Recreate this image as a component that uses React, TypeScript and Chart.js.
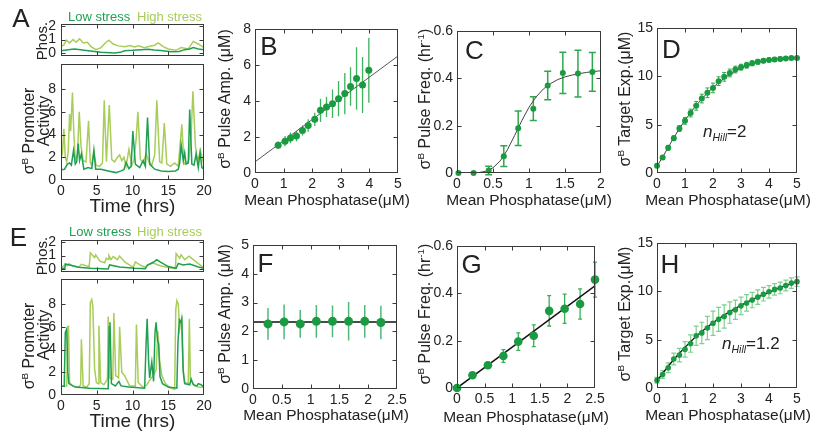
import React, { useEffect, useRef } from "react";
import { Chart, registerables } from "chart.js";
Chart.register(...registerables);

const W = 815;
const H = 432;
const FONT = "'Liberation Sans', Arial, Helvetica, sans-serif";
const INK = "#222222";
const FRAME = "#3a3a3a";
const LOW = "#1f9f52";
const HIGH = "#a8cd5a";
const DOT = "#1a9a41";

type Pair = [number, number];

// ---------- Panel A (time traces) ----------
const phosHighA: Pair[] = [[0,0.47],[0.4,0.6],[0.75,0.95],[1.2,0.75],[1.7,1.0],[2.1,0.8],[2.6,1.05],[3.1,0.75],[3.7,0.8],[4.2,0.47],[4.9,0.25],[5.6,0.4],[6.3,0.8],[6.7,0.95],[7.3,0.67],[8.0,0.53],[8.9,0.47],[9.6,0.55],[10.3,0.45],[10.8,0.53],[11.7,0.4],[12.4,0.5],[13.1,0.58],[13.6,0.75],[14.3,0.47],[15.0,0.3],[16.1,0.2],[16.8,0.4],[17.8,0.3],[18.5,0.86],[19.2,0.67],[20,0.4]];
const phosLowA: Pair[] = [[0,0.17],[1.0,0.25],[1.9,0.3],[3.0,0.22],[3.8,0.17],[5.0,0.1],[5.6,0.05],[7.5,0.0],[8.3,0.05],[8.9,0.17],[10.0,0.2],[11.2,0.25],[12.2,0.28],[13.0,0.22],[13.6,0.2],[15.4,0.1],[16.5,0.12],[17.3,0.25],[18.0,0.3],[18.5,0.4],[19.2,0.3],[20,0.25]];
const actHighA: Pair[] = [[0,2.0],[0.2,2.3],[0.4,4.5],[0.6,2.0],[0.8,1.6],[1.0,2.4],[1.2,5.8],[1.35,4.3],[1.6,7.7],[1.8,4.0],[2.0,1.8],[2.3,2.2],[2.55,6.0],[2.8,3.0],[3.1,1.7],[3.5,1.6],[3.85,5.2],[4.1,1.5],[4.3,1.3],[4.6,2.5],[4.9,1.3],[5.4,1.2],[5.8,1.5],[6.05,7.0],[6.35,1.6],[6.75,6.6],[7.1,1.8],[7.5,1.6],[7.9,2.0],[8.2,2.2],[8.5,1.7],[8.8,2.0],[9.1,1.2],[9.5,2.7],[9.9,1.3],[10.2,1.8],[10.5,3.5],[10.75,6.0],[11.1,1.8],[11.5,1.5],[11.9,2.3],[12.3,1.6],[12.7,1.3],[13.1,2.2],[13.4,7.0],[13.8,1.6],[14.1,1.5],[14.45,5.0],[14.8,1.4],[15.3,1.2],[15.9,1.5],[16.4,1.2],[16.9,4.9],[17.2,1.4],[17.6,1.5],[17.9,1.8],[18.2,4.0],[18.45,7.8],[18.8,3.0],[19.1,1.6],[19.5,2.6],[20,1.3]];
const actLowA: Pair[] = [[0,0.9],[0.5,0.95],[0.9,1.4],[1.2,1.5],[1.45,1.3],[1.75,2.6],[2.0,1.4],[2.2,1.6],[2.4,3.2],[2.6,1.7],[2.85,2.3],[3.2,0.95],[3.8,1.1],[4.3,1.0],[4.6,2.6],[4.85,0.95],[5.6,0.95],[6.6,0.8],[7.7,0.65],[8.4,0.8],[8.8,0.9],[9.1,1.55],[9.5,1.0],[9.8,1.2],[10.05,4.3],[10.4,1.4],[11.0,1.1],[11.5,1.7],[11.8,1.2],[12.1,5.5],[12.4,1.4],[13.1,0.95],[14.0,0.8],[15.0,0.75],[16.0,0.8],[16.4,0.95],[16.6,1.5],[16.8,3.1],[17.1,1.7],[17.3,2.4],[17.5,1.4],[17.8,1.5],[18.0,6.2],[18.3,1.4],[18.6,1.3],[18.9,2.3],[19.2,1.1],[19.45,2.4],[19.7,1.1],[20,0.95]];

// ---------- Panel E (time traces) ----------
const phosHighE: Pair[] = [[0,0.1],[0.5,0.3],[0.9,0.25],[1.1,0.4],[1.6,0.25],[2.5,0.15],[2.85,0.35],[3.5,0.25],[3.95,0.2],[4.1,1.2],[4.7,0.85],[4.85,1.05],[5.4,0.6],[6.1,0.47],[6.35,0.8],[6.6,0.7],[6.7,1.0],[7.0,0.7],[7.3,0.92],[7.9,0.7],[8.2,0.97],[8.9,0.53],[10.1,0.13],[10.4,0.53],[11.2,0.26],[11.8,0.15],[12.1,0.3],[12.9,0.45],[13.6,0.3],[14.0,0.22],[15.4,0.08],[16.0,0.05],[16.1,1.15],[16.6,0.8],[16.8,1.05],[17.3,0.7],[17.9,0.95],[19.2,0.4],[20,0.08]];
const phosLowE: Pair[] = [[0,0.05],[0.55,0.05],[0.6,0.37],[1.2,0.3],[2.4,0.13],[4.2,0.05],[6.6,0.0],[6.8,0.3],[8.2,0.15],[10.3,0.05],[11.8,0.03],[12.1,0.3],[12.9,0.5],[13.4,0.7],[13.8,0.55],[15.0,0.18],[16.1,0.05],[16.4,0.42],[17.05,0.3],[18.0,0.37],[19.2,0.15],[20,0.05]];
const actHighE: Pair[] = [[0,0.8],[0.8,0.8],[0.95,5.0],[1.05,6.1],[1.2,1.1],[1.6,0.8],[2.4,0.65],[2.75,0.9],[2.85,4.9],[3.1,0.8],[3.6,0.7],[3.95,1.0],[4.1,8.1],[4.3,8.4],[4.45,7.8],[4.7,2.3],[4.95,1.1],[5.2,1.0],[5.3,6.1],[5.55,1.1],[6.0,0.9],[6.5,1.4],[6.6,6.9],[6.8,1.5],[7.25,1.4],[7.4,7.2],[7.65,1.7],[8.05,1.5],[8.2,6.0],[8.5,2.0],[8.9,1.7],[9.6,0.8],[10.4,0.8],[10.55,6.2],[10.8,1.1],[11.5,0.65],[12.0,0.9],[12.4,1.3],[12.9,1.7],[13.3,2.2],[13.55,5.6],[13.8,3.0],[14.1,1.7],[14.6,1.0],[15.3,0.6],[15.9,0.5],[16.05,7.5],[16.2,8.3],[16.4,8.0],[16.6,5.8],[16.85,6.7],[17.05,2.5],[17.3,1.1],[17.8,1.0],[17.95,6.7],[18.1,1.4],[18.7,0.8],[19.3,0.7],[20,0.65]];
const actLowE: Pair[] = [[0,0.8],[0.45,0.75],[0.6,5.5],[0.8,5.8],[0.95,2.0],[1.1,1.0],[2.0,0.7],[4,0.6],[6.6,0.55],[6.75,6.0],[6.85,6.4],[7.05,1.0],[7.6,0.8],[8.1,1.2],[8.4,0.8],[9.5,0.7],[11.7,0.6],[11.9,4.5],[12.05,6.7],[12.25,3.0],[12.4,1.5],[12.7,2.9],[12.95,1.2],[13.15,5.5],[13.3,6.4],[13.5,4.8],[13.65,4.5],[13.85,1.6],[14.2,1.0],[15.0,0.7],[16.2,0.6],[16.35,4.5],[16.55,6.6],[16.75,6.4],[16.9,6.7],[17.1,2.0],[17.3,1.0],[18.0,0.9],[18.2,1.4],[18.5,0.9],[19.0,0.8],[19.2,1.0],[19.6,0.9],[20,0.7]];

const timeTicks = [0, 5, 10, 15, 20];
const phosTicks = [0, 1, 2];
const actTicks = [0, 2, 4, 6, 8];

// ---------- Panel B ----------
const phosB = [0.81,1.05,1.24,1.45,1.66,1.86,2.09,2.29,2.5,2.71,2.92,3.14,3.34,3.55,3.76,3.98];
const ampB = [1.54,1.77,1.95,2.05,2.36,2.64,2.98,3.48,3.67,3.85,4.13,4.41,4.8,5.25,4.89,5.71];
const ampErrB = [0.21,0.28,0.3,0.28,0.28,0.35,0.37,0.65,0.56,0.79,0.98,1.14,1.07,1.74,1.56,1.81];
const fitB: Pair[] = [[0,0.62],[5,6.5]];
const xTicksB = [0,1,2,3,4,5];
const yTicksB = [0,2,4,6,8];

// ---------- Panel C ----------
const phosC = [0.02,0.23,0.44,0.65,0.85,1.06,1.26,1.47,1.68,1.88];
const freqC = [0,0,0.011,0.071,0.189,0.272,0.37,0.423,0.42,0.427];
const freqErrC = [0,0,0.018,0.044,0.073,0.05,0.06,0.087,0.099,0.082];
const fitXC = [0,0.2,0.3,0.4,0.5,0.6,0.7,0.8,0.9,1.0,1.1,1.2,1.3,1.4,1.5,1.6,1.7,1.8,1.9,2.0];
const fitYC = [0,0.0003,0.0017,0.0072,0.022,0.051,0.098,0.158,0.221,0.278,0.322,0.355,0.378,0.395,0.406,0.414,0.42,0.425,0.429,0.432];
const xTicksC = [0,0.5,1,1.5,2];
const yTicksC = [0,0.2,0.4,0.6];

// ---------- Panel D ----------
const phosD = [0,0.2,0.4,0.6,0.8,1,1.2,1.4,1.6,1.8,2,2.2,2.4,2.6,2.8,3,3.2,3.4,3.6,3.8,4,4.2,4.4,4.6,4.8,5];
const targD = [0.75,1.6,2.6,3.6,4.6,5.4,6.2,6.95,7.7,8.3,8.8,9.5,9.95,10.35,10.7,10.95,11.15,11.35,11.5,11.6,11.7,11.75,11.8,11.85,11.9,11.9];
const targErrD = [0.2,0.2,0.25,0.25,0.3,0.35,0.4,0.45,0.45,0.5,0.5,0.45,0.45,0.4,0.35,0.3,0.3,0.25,0.25,0.2,0.2,0.2,0.2,0.15,0.15,0.15];
const fitD = [0.7,1.65,2.65,3.65,4.6,5.45,6.25,7.0,7.65,8.3,8.85,9.35,9.8,10.2,10.55,10.85,11.1,11.3,11.45,11.58,11.68,11.76,11.82,11.87,11.9,11.92];
const xTicks05 = [0,1,2,3,4,5];
const yTicks015 = [0,5,10,15];

// ---------- Panel F ----------
const phosF = [0.26,0.54,0.82,1.1,1.38,1.66,1.94,2.22];
const ampF = [2.26,2.33,2.26,2.35,2.35,2.35,2.35,2.31];
const ampErrF = [0.55,0.6,0.48,0.57,0.55,0.67,0.57,0.58];
const fitF: Pair[] = [[0,2.33],[2.5,2.33]];
const xTicks025 = [0,0.5,1,1.5,2,2.5];
const yTicksF = [0,1,2,3,4,5];

// ---------- Panel G ----------
const phosG = [0,0.28,0.56,0.84,1.11,1.39,1.67,1.95,2.23,2.5];
const freqG = [0,0.054,0.096,0.135,0.196,0.221,0.326,0.335,0.355,0.458];
const freqErrG = [0,0.008,0.012,0.027,0.037,0.046,0.064,0.062,0.064,0.074];
const fitG: Pair[] = [[0,0],[2.5,0.432]];

// ---------- Panel H ----------
const phosH = [0,0.2,0.4,0.6,0.8,1,1.2,1.4,1.6,1.8,2,2.2,2.4,2.6,2.8,3,3.2,3.4,3.6,3.8,4,4.2,4.4,4.6,4.8,5];
const targH = [0.8,1.4,2.1,3.0,3.4,4.0,4.6,5.4,5.7,6.2,6.7,7.1,7.4,7.8,8.1,8.5,8.8,9.1,9.4,9.7,9.95,10.2,10.35,10.6,10.85,11.0];
const targErrH = [0.3,0.4,0.5,0.6,0.7,0.8,0.9,1.0,1.1,1.2,1.25,1.25,1.2,1.1,1.0,0.9,0.85,0.8,0.75,0.7,0.65,0.6,0.6,0.55,0.55,0.5];
const fitH = [0.75,1.5,2.25,2.95,3.6,4.2,4.8,5.35,5.85,6.3,6.75,7.15,7.55,7.9,8.25,8.55,8.85,9.15,9.4,9.65,9.9,10.15,10.4,10.6,10.8,11.0];

// ---------- helpers ----------
const pairsXY = (p: Pair[]) => p.map(([x, y]) => ({ x, y }));
const zipXY = (xs: number[], ys: number[]) => xs.map((x, i) => ({ x, y: ys[i] }));

type Box = { l: number; t: number; r: number; b: number };

const framePlugin = {
  id: "frame",
  afterDraw(chart: any) {
    const { ctx, chartArea: a, scales } = chart;
    const xs = scales.x;
    const ys = scales.y;
    ctx.save();
    ctx.strokeStyle = FRAME;
    ctx.lineWidth = 1;
    const L = Math.round(a.left) + 0.5;
    const R = Math.round(a.right) - 0.5;
    const T = Math.round(a.top) + 0.5;
    const B = Math.round(a.bottom) - 0.5;
    ctx.strokeRect(L, T, R - L, B - T);
    const tl = 4;
    ctx.beginPath();
    xs.ticks.forEach((t: any) => {
      const px = Math.round(xs.getPixelForValue(t.value)) + 0.5;
      if (px <= L + 1 || px >= R - 1) return;
      ctx.moveTo(px, B); ctx.lineTo(px, B - tl);
      ctx.moveTo(px, T); ctx.lineTo(px, T + tl);
    });
    ys.ticks.forEach((t: any) => {
      const py = Math.round(ys.getPixelForValue(t.value)) + 0.5;
      if (py <= T + 1 || py >= B - 1) return;
      ctx.moveTo(L, py); ctx.lineTo(L + tl, py);
      ctx.moveTo(R, py); ctx.lineTo(R - tl, py);
    });
    ctx.stroke();
    ctx.restore();
  },
};

function errPlugin(xs: number[], ys: number[], es: number[], color: string, cap: number, width: number) {
  return {
    id: "errbars",
    beforeDatasetsDraw(chart: any) {
      const { ctx, scales } = chart;
      ctx.save();
      ctx.strokeStyle = color;
      ctx.lineWidth = width;
      ctx.beginPath();
      xs.forEach((x, i) => {
        if (!es[i]) return;
        const px = scales.x.getPixelForValue(x);
        const p1 = scales.y.getPixelForValue(ys[i] - es[i]);
        const p2 = scales.y.getPixelForValue(ys[i] + es[i]);
        ctx.moveTo(px, p1); ctx.lineTo(px, p2);
        if (cap > 0) {
          ctx.moveTo(px - cap, p1); ctx.lineTo(px + cap, p1);
          ctx.moveTo(px - cap, p2); ctx.lineTo(px + cap, p2);
        }
      });
      ctx.stroke();
      ctx.restore();
    },
  };
}

function axis(min: number, max: number, ticks: number[], horizontal: boolean, size: number, labels: boolean, pad: number) {
  return {
    type: "linear",
    min,
    max,
    afterBuildTicks: (s: any) => { s.ticks = ticks.map((v) => ({ value: v })); },
    afterFit: (s: any) => {
      if (horizontal) s.height = size; else s.width = size;
      s.paddingLeft = 0; s.paddingRight = 0; s.paddingTop = 0; s.paddingBottom = 0;
    },
    grid: { display: false, drawTicks: false },
    border: { display: false },
    ticks: {
      display: labels,
      padding: pad,
      color: INK,
      font: { family: FONT, size: 14 },
      autoSkip: false,
      maxRotation: 0,
      minRotation: 0,
      callback: (v: number) => String(v),
    },
    title: { display: false },
  };
}

interface Spec {
  box: Box;
  x: [number, number, number[]];
  y: [number, number, number[]];
  xLabels: boolean;
  yPad?: number;
  datasets: any[];
  plugins?: any[];
}

function makeConfig(s: Spec): any {
  const yW = 40;
  const xH = 20;
  return {
    type: "scatter",
    data: { datasets: s.datasets },
    options: {
      responsive: false,
      animation: false,
      events: [],
      layout: { padding: { left: s.box.l - yW, top: s.box.t, right: W - s.box.r, bottom: H - s.box.b - xH } },
      plugins: { legend: { display: false }, tooltip: { enabled: false }, title: { display: false } },
      scales: {
        x: axis(s.x[0], s.x[1], s.x[2], true, xH, s.xLabels, 3),
        y: axis(s.y[0], s.y[1], s.y[2], false, yW, true, s.yPad ?? 4),
      },
    },
    plugins: [framePlugin, ...(s.plugins || [])],
  };
}

const trace = (p: Pair[], color: string) => ({
  data: pairsXY(p), showLine: true, borderColor: color, backgroundColor: color, borderWidth: 1.5, pointRadius: 0, tension: 0,
});
const dots = (xs: number[], ys: number[], r: number) => ({
  data: zipXY(xs, ys), pointRadius: r, pointBorderWidth: 0, pointBackgroundColor: DOT, backgroundColor: DOT, borderColor: DOT, clip: false,
});
const fitLine = (d: { x: number; y: number }[], color: string, w: number) => ({
  data: d, showLine: true, borderColor: color, borderWidth: w, pointRadius: 0, tension: 0,
});

const specs: Spec[] = [
  { box: { l: 61, t: 24, r: 204, b: 56 }, x: [0, 20, timeTicks], y: [-0.22, 2.15, phosTicks], xLabels: false, yPad: 5,
    datasets: [trace(phosLowA, LOW), trace(phosHighA, HIGH)] },
  { box: { l: 61, t: 64, r: 204, b: 180 }, x: [0, 20, timeTicks], y: [0, 10.2, actTicks], xLabels: true, yPad: 5,
    datasets: [trace(actLowA, LOW), trace(actHighA, HIGH)] },
  { box: { l: 255, t: 29, r: 398, b: 173 }, x: [0, 5, xTicksB], y: [0, 8, yTicksB], xLabels: true,
    datasets: [dots(phosB, ampB, 3.5), fitLine(pairsXY(fitB), "#555", 1)],
    plugins: [errPlugin(phosB, ampB, ampErrB, "#3db35c", 0, 1.3)] },
  { box: { l: 457, t: 31, r: 601, b: 173 }, x: [0, 2, xTicksC], y: [0, 0.6, yTicksC], xLabels: true,
    datasets: [dots(phosC, freqC, 3), fitLine(zipXY(fitXC, fitYC), "#444", 1)],
    plugins: [errPlugin(phosC, freqC, freqErrC, "#2fa84c", 3.5, 1.5)] },
  { box: { l: 657, t: 28, r: 797, b: 173 }, x: [0, 5, xTicks05], y: [0, 15, yTicks015], xLabels: true,
    datasets: [dots(phosD, targD, 3), fitLine(zipXY(phosD, fitD), "#444", 1)],
    plugins: [errPlugin(phosD, targD, targErrD, "#2fa84c", 2, 1)] },
  { box: { l: 61, t: 240, r: 204, b: 272 }, x: [0, 20, timeTicks], y: [-0.22, 2.15, phosTicks], xLabels: false, yPad: 5,
    datasets: [trace(phosLowE, LOW), trace(phosHighE, HIGH)] },
  { box: { l: 61, t: 279, r: 204, b: 395 }, x: [0, 20, timeTicks], y: [0, 10.2, actTicks], xLabels: true, yPad: 5,
    datasets: [trace(actLowE, LOW), trace(actHighE, HIGH)] },
  { box: { l: 253, t: 245, r: 397, b: 389 }, x: [0, 2.5, xTicks025], y: [0, 5, yTicksF], xLabels: true,
    datasets: [dots(phosF, ampF, 4.5), fitLine(pairsXY(fitF), "#111", 1.5)],
    plugins: [errPlugin(phosF, ampF, ampErrF, "#52b87a", 0, 1.5)] },
  { box: { l: 457, t: 246, r: 595, b: 388 }, x: [0, 2.5, xTicks025], y: [0, 0.6, yTicksC], xLabels: true,
    datasets: [dots(phosG, freqG, 4.3), fitLine(pairsXY(fitG), "#111", 1.5)],
    plugins: [errPlugin(phosG, freqG, freqErrG, "#3aaf55", 2, 1.3)] },
  { box: { l: 657, t: 243, r: 797, b: 388 }, x: [0, 5, xTicks05], y: [0, 15, yTicks015], xLabels: true,
    datasets: [dots(phosH, targH, 2.8), fitLine(zipXY(phosH, fitH), "#111", 1.3)],
    plugins: [errPlugin(phosH, targH, targErrH, "#7fcf8f", 2.5, 1.2)] },
];

function Layer({ spec }: { spec: Spec }) {
  const ref = useRef<HTMLCanvasElement>(null);
  useEffect(() => {
    const c = new Chart(ref.current as HTMLCanvasElement, makeConfig(spec));
    return () => c.destroy();
  }, [spec]);
  return <canvas ref={ref} width={W} height={H} style={{ position: "absolute", left: 0, top: 0, width: W, height: H }} />;
}

function Txt(props: { x: number; y: number; size: number; color?: string; rot?: boolean; left?: boolean; children: any }) {
  const { x, y, size, color = INK, rot = false, left = false, children } = props;
  return (
    <div
      style={{
        position: "absolute", left: x, top: y, fontFamily: FONT, fontSize: size, color, lineHeight: 1,
        whiteSpace: "nowrap", transform: `translate(${left ? "0" : "-50%"}, -50%)` + (rot ? " rotate(-90deg)" : ""),
      }}
    >
      {children}
    </div>
  );
}

const Sup = ({ c }: { c: string }) => (
  <span style={{ fontSize: "0.62em", position: "relative", top: "-0.6em" }}>{c}</span>
);
const Sub = ({ c }: { c: string }) => (
  <span style={{ fontSize: "0.62em", position: "relative", top: "0.35em" }}>{c}</span>
);

const MP = "Mean Phosphatase(\u03bcM)";

export default function App() {
  return (
    <div style={{ position: "absolute", left: 0, top: 0, width: W, height: H, background: "#fff", overflow: "hidden" }}>
      {specs.map((s, i) => <Layer key={i} spec={s} />)}

      {/* panel letters */}
      <Txt x={21} y={18} size={26}>A</Txt>
      <Txt x={269} y={46} size={26}>B</Txt>
      <Txt x={474.5} y={50} size={26}>C</Txt>
      <Txt x={671.5} y={49} size={26}>D</Txt>
      <Txt x={18.5} y={236.5} size={26}>E</Txt>
      <Txt x={265.5} y={263} size={26}>F</Txt>
      <Txt x={471.5} y={263.5} size={26}>G</Txt>
      <Txt x={670} y={263.5} size={26}>H</Txt>

      {/* legends */}
      <Txt x={68} y={16} size={13} color={LOW} left>Low stress</Txt>
      <Txt x={137} y={16} size={13} color={HIGH} left>High stress</Txt>
      <Txt x={69} y={231} size={13} color={LOW} left>Low stress</Txt>
      <Txt x={137} y={231} size={13} color={HIGH} left>High stress</Txt>

      {/* x titles */}
      <Txt x={132.5} y={205} size={19}>Time (hrs)</Txt>
      <Txt x={132.5} y={420} size={19}>Time (hrs)</Txt>
      <Txt x={327} y={200} size={15.5}>{MP}</Txt>
      <Txt x={529} y={200} size={15.5}>{MP}</Txt>
      <Txt x={728} y={200} size={15.5}>{MP}</Txt>
      <Txt x={326} y={415} size={15.5}>{MP}</Txt>
      <Txt x={526} y={416.5} size={15.5}>{MP}</Txt>
      <Txt x={728} y={415} size={15.5}>{MP}</Txt>

      {/* y titles A / E */}
      <Txt x={41} y={41} size={15} rot>Phos.</Txt>
      <Txt x={29} y={131} size={16} rot>σ<Sup c="B" /> Promoter</Txt>
      <Txt x={43.5} y={121} size={16} rot>Activity</Txt>
      <Txt x={41} y={256} size={15} rot>Phos.</Txt>
      <Txt x={29} y={346} size={16} rot>σ<Sup c="B" /> Promoter</Txt>
      <Txt x={43.5} y={335} size={16} rot>Activity</Txt>

      {/* y titles scatter panels */}
      <Txt x={225} y={99} size={16} rot>σ<Sup c="B" /> Pulse Amp. (μM)</Txt>
      <Txt x={425} y={99} size={16} rot>σ<Sup c="B" /> Pulse Freq. (hr<Sup c="-1" />)</Txt>
      <Txt x={625} y={99} size={16} rot>σ<Sup c="B" /> Target Exp.(μM)</Txt>
      <Txt x={225} y={314} size={16} rot>σ<Sup c="B" /> Pulse Amp. (μM)</Txt>
      <Txt x={425} y={314} size={16} rot>σ<Sup c="B" /> Pulse Freq. (hr<Sup c="-1" />)</Txt>
      <Txt x={625} y={314} size={16} rot>σ<Sup c="B" /> Target Exp.(μM)</Txt>

      {/* Hill annotations */}
      <Txt x={703} y={131} size={17} left><i>n</i><i><Sub c="Hill" /></i>=2</Txt>
      <Txt x={722} y={343} size={17} left><i>n</i><i><Sub c="Hill" /></i>=1.2</Txt>
    </div>
  );
}
